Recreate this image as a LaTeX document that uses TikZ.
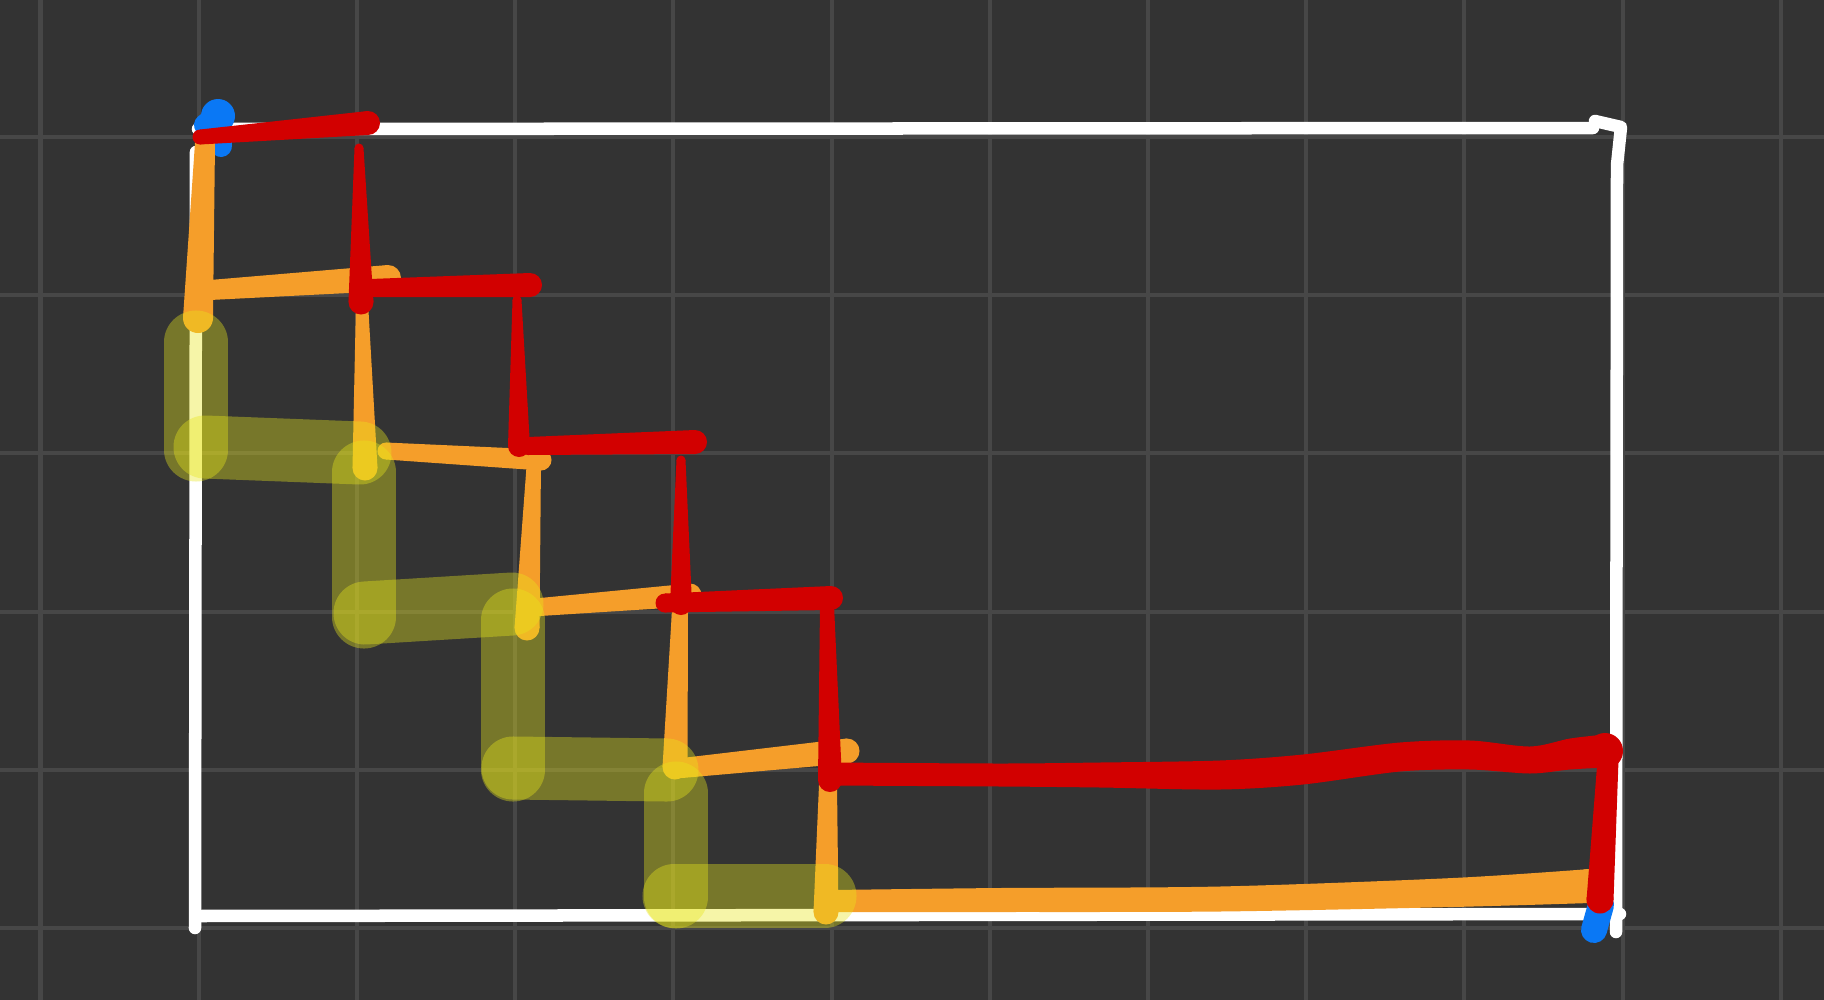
\documentclass[tikz,border=0pt]{standalone}
\definecolor{bgdark}{HTML}{333333}
\definecolor{gridgray}{HTML}{474747}
\definecolor{penorange}{HTML}{F59E2A}
\definecolor{penred}{HTML}{D20000}
\definecolor{penblue}{HTML}{0A78F5}
\definecolor{penyellow}{HTML}{E8E61C}
\newcommand\vtaper[7]{\fill[#1] (#2-#4/2,#3) -- (#2+#4/2,#3) -- (#5+#7/2,#6) -- (#5-#7/2,#6) -- cycle;
  \fill[#1] (#2,#3) circle (#4/2); \fill[#1] (#5,#6) circle (#7/2);}
\newcommand\htaper[7]{\fill[#1] (#2,#3-#4/2) -- (#2,#3+#4/2) -- (#5,#6+#7/2) -- (#5,#6-#7/2) -- cycle;
  \fill[#1] (#2,#3) circle (#4/2); \fill[#1] (#5,#6) circle (#7/2);}
\begin{document}
\begin{tikzpicture}[x=0.01cm, y=-0.01cm,
  gridline/.style={draw=gridgray, line width=0.04cm},
  whiteline/.style={draw=white, line width=0.125cm, line cap=round, line join=round},
  blueink/.style={draw=penblue, fill=penblue, line width=0.22cm, line cap=round, line join=round},
  orangeink/.style={fill=penorange},
  redink/.style={fill=penred},
  oliveink/.style={draw=penyellow, draw opacity=0.38, line width=0.63cm, line cap=round}
]
\fill[bgdark] (0,0) rectangle (1824,1000);
\useasboundingbox (0,0) rectangle (1824,1000);
\foreach \k in {0,...,11}
  \draw[gridline] ({40.5+158.2*\k},0) -- ({40.5+158.2*\k},1000);
\foreach \k in {0,...,5}
  \draw[gridline] (0,{137+158.2*\k}) -- (1824,{137+158.2*\k});

\draw[whiteline] (198,129) -- (1593,128);
\draw[whiteline] (1595,121) -- (1621,127) -- (1617,165) -- (1616,932);
\draw[whiteline] (196,152) -- (195,928);
\draw[whiteline] (196,916) -- (1620,914);

\draw[blueink] (205,125) -- (219,114) -- (221,146);
\fill[penblue] (218,116) circle (17);
\draw[blueink, line width=0.26cm] (1601,905) -- (1594,930);

\vtaper{orangeink}{205}{143}{20}{198}{318}{30}
\htaper{orangeink}{210}{290}{20}{388}{278}{26}
\vtaper{orangeink}{362}{302}{12}{365}{468}{25}
\htaper{orangeink}{386}{451}{17}{541}{460}{21}
\vtaper{orangeink}{534}{460}{14}{527}{628}{25}
\htaper{orangeink}{540}{607}{18}{690}{595}{23}
\vtaper{orangeink}{680}{610}{16}{675}{767}{25}
\htaper{orangeink}{682}{768}{20}{847}{751}{25}
\vtaper{orangeink}{828}{785}{18}{826}{912}{25}
\fill[orangeink] plot[smooth] coordinates {(832,890) (1000,888) (1220,886.5) (1453,878) (1590,869)}
  -- plot[smooth] coordinates {(1590,903) (1453,907) (1220,911.5) (1000,912) (832,912)} -- cycle;
\fill[orangeink] (832,901) circle (11);
\fill[orangeink] (1588,886) circle (17);

\htaper{redink}{200}{137}{15}{368}{123}{24}
\vtaper{redink}{359}{148}{9}{361}{302}{25}
\htaper{redink}{370}{288}{18}{530}{285}{24}
\vtaper{redink}{517}{300}{9}{519}{446}{22}
\htaper{redink}{528}{446}{18}{695}{442}{24}
\vtaper{redink}{681}{460}{9}{681}{604}{22}
\htaper{redink}{665}{603}{19}{831}{598}{24}
\vtaper{redink}{827}{605}{14}{830}{780}{24}
\fill[redink] plot[smooth] coordinates {(830,762.5) (1000,763.5) (1100,762.5) (1220,760.5) (1303,754.5) (1400,742.5) (1470,740.5) (1530,746.5) (1570,738.5) (1605,734.5)}
  -- plot[smooth] coordinates {(1605,767.5) (1570,769.5) (1530,773.5) (1470,769.5) (1400,771.5) (1303,784.5) (1220,789.5) (1100,787.5) (1000,786.5) (830,785.5)} -- cycle;
\fill[redink] (830,774) circle (11.5);
\fill[redink] (1605,751) circle (18);
\vtaper{redink}{1608}{760}{21}{1600}{900}{27}

\draw[oliveink] (196,342) -- (196,450);
\draw[oliveink] (205,447) -- (360,453);
\draw[oliveink] (364,472) -- (364,617);
\draw[oliveink] (365,613) -- (512,604);
\draw[oliveink] (513,620) -- (513,770);
\draw[oliveink] (513,768) -- (667,770);
\draw[oliveink] (676,793) -- (676,897);
\draw[oliveink] (674,896) -- (825,896);
\end{tikzpicture}
\end{document}
